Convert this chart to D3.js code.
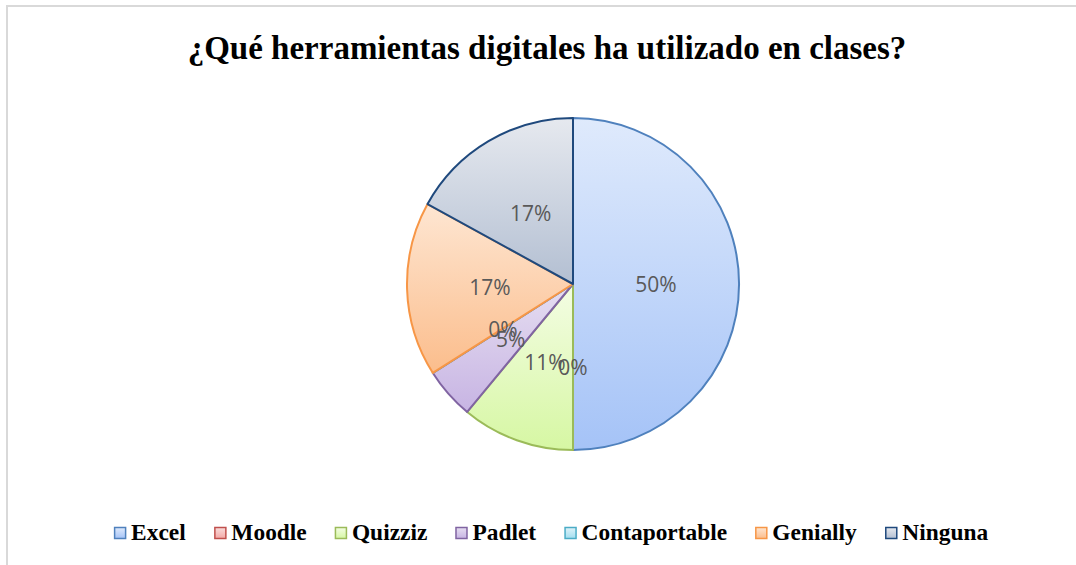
<!DOCTYPE html>
<html>
<head>
<meta charset="utf-8">
<script src="https://cdn.jsdelivr.net/npm/d3@7"></script>
<style>
  body { margin: 0; background: #fff; }
  svg { display: block; }
</style>
</head>
<body>
<svg width="1076" height="565"></svg>
<script>
var title = '¿Qué herramientas digitales ha utilizado en clases?';
var categories = ['Excel', 'Moodle', 'Quizziz', 'Padlet', 'Contaportable', 'Genially', 'Ninguna'];
var values = [50, 0, 11, 5, 0, 17, 17];
var strokes = ['#4f81bd', '#c0504d', '#9bbb59', '#8064a2', '#4bacc6', '#f79646', '#1f497d'];
var lights = ['#dfeafc', '#f9dddc', '#f4fde4', '#e6def1', '#dff3f9', '#fee6d2', '#e6e9ef'];
var darks = ['#a5c3f7', '#f3a9a7', '#d6f7a3', '#c7b4e3', '#a3def0', '#fbbd8c', '#b3bfd2'];

var svg = d3.select('svg');

// chart area frame (runs off the right and bottom edges)
svg.append('rect')
    .attr('x', 7).attr('y', 6)
    .attr('width', 1200).attr('height', 700)
    .attr('fill', '#fff')
    .attr('stroke', '#d9d9d9')
    .attr('stroke-width', 2);

var defs = svg.append('defs');
categories.forEach((c, i) => {
    var g = defs.append('linearGradient')
        .attr('id', 'grad' + i)
        .attr('x1', 0).attr('y1', 0).attr('x2', 0).attr('y2', 1);
    g.append('stop').attr('offset', '0%').attr('stop-color', lights[i]);
    g.append('stop').attr('offset', '100%').attr('stop-color', darks[i]);
});

svg.append('text')
    .attr('x', 547)
    .attr('y', 59)
    .attr('text-anchor', 'middle')
    .attr('font-family', '"Liberation Serif", "Times New Roman", serif')
    .attr('font-weight', 'bold')
    .attr('font-size', 33)
    .attr('fill', '#000')
    .text(title);

var cx = 573, cy = 284, radius = 166;

var pie = d3.pie().sort(null).value(d => d);
var arcs = pie(values);
var arc = d3.arc().innerRadius(0).outerRadius(radius);
var labelArc = d3.arc().innerRadius(radius / 2).outerRadius(radius / 2);

var g = svg.append('g').attr('transform', `translate(${cx},${cy})`);

g.selectAll('path')
    .data(arcs)
    .enter()
    .append('path')
    .attr('d', arc)
    .attr('fill', (d, i) => `url(#grad${i})`)
    .attr('stroke', (d, i) => strokes[i])
    .attr('stroke-width', 2)
    .attr('stroke-linejoin', 'round');

var total = d3.sum(values);
g.selectAll('text')
    .data(arcs)
    .enter()
    .append('text')
    .attr('transform', d => `translate(${labelArc.centroid(d)})`)
    .attr('text-anchor', 'middle')
    .attr('dy', '0.4em')
    .attr('font-family', '"Open Sans", "Noto Sans", sans-serif')
    .attr('font-size', 21)
    .attr('fill', '#595959')
    .text(d => Math.round(d.data / total * 100) + '%');

// legend
var legend = svg.append('g');
var items = legend.selectAll('g')
    .data(categories)
    .enter()
    .append('g');

items.append('rect')
    .attr('x', 0.5).attr('y', -12.5)
    .attr('width', 11).attr('height', 11)
    .attr('fill', (d, i) => `url(#grad${i})`)
    .attr('stroke', (d, i) => strokes[i])
    .attr('stroke-width', 1.5);

items.append('text')
    .attr('x', 17)
    .attr('y', 0)
    .attr('font-family', '"Liberation Serif", "Times New Roman", serif')
    .attr('font-weight', 'bold')
    .attr('font-size', 23.4)
    .attr('fill', '#000')
    .text(d => d);

var gap = 28.7;
var x = 0;
var offsets = [];
items.each(function () {
    offsets.push(x);
    x += this.getBBox().width + gap;
});
var legendWidth = x - gap;
items.attr('transform', (d, i) => `translate(${offsets[i]},0)`);
legend.attr('transform', `translate(${551 - legendWidth / 2},540)`);
</script>
</body>
</html>
